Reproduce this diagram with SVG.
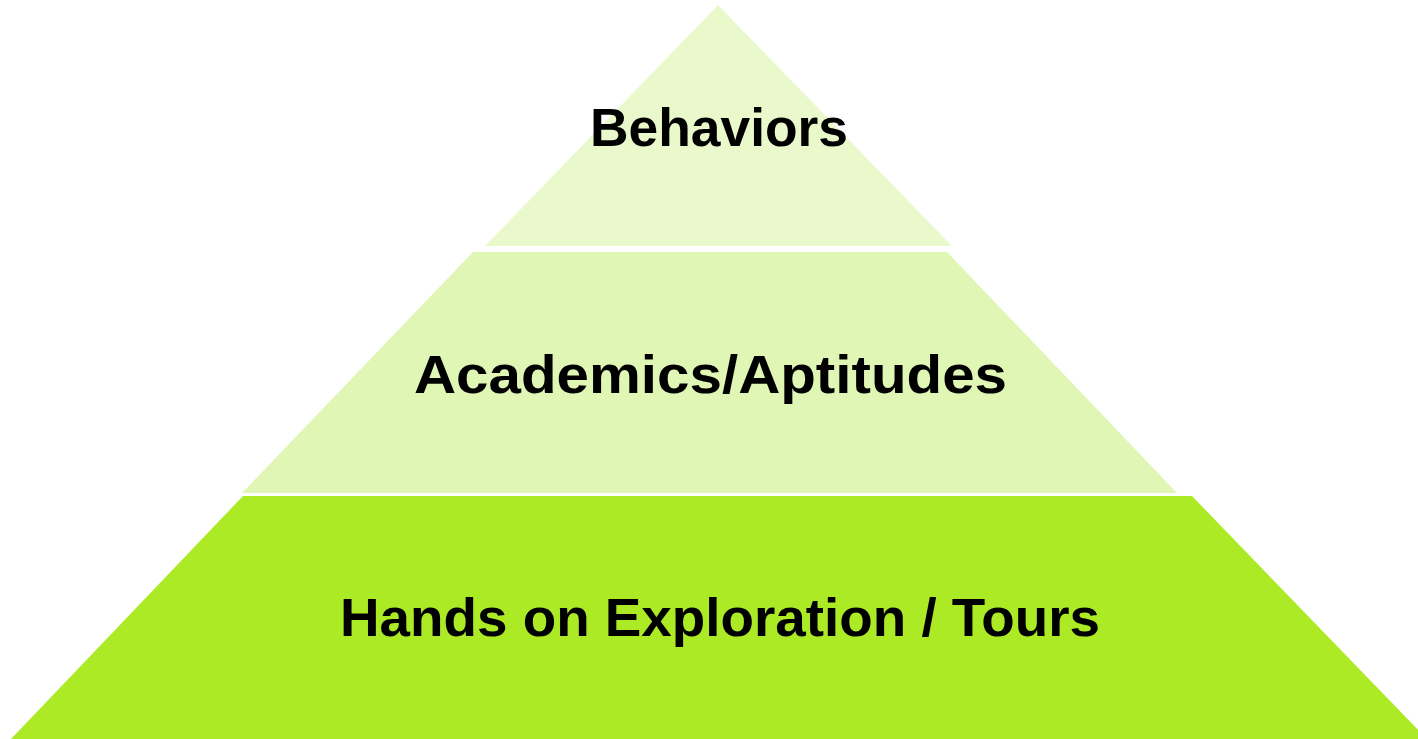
<svg xmlns="http://www.w3.org/2000/svg" width="1418" height="739" viewBox="0 0 1418 739">
<style>
.lbl{font-family:"Liberation Sans",Arial,sans-serif;font-weight:bold;font-size:54px;fill:#000;text-anchor:middle}
</style>
<rect width="1418" height="739" fill="#fff"/>
<g id="tier-top">
<polygon points="718,5 952,246 485,246" fill="#EAF9CC"/>
<text class="lbl" x="719" y="146" textLength="258" lengthAdjust="spacingAndGlyphs">Behaviors</text>
</g>
<g id="tier-middle">
<polygon points="473,252 947,252 1177,493 242,493" fill="#DFF6B4"/>
<text class="lbl" x="710.5" y="393" textLength="593" lengthAdjust="spacingAndGlyphs">Academics/Aptitudes</text>
</g>
<g id="tier-bottom">
<polygon points="243,496 1192,496 1427,739 11,739" fill="#ABEA25"/>
<text class="lbl" x="720" y="636" textLength="760" lengthAdjust="spacingAndGlyphs">Hands on Exploration / Tours</text>
</g>
<g id="connectors"></g>
</svg>
